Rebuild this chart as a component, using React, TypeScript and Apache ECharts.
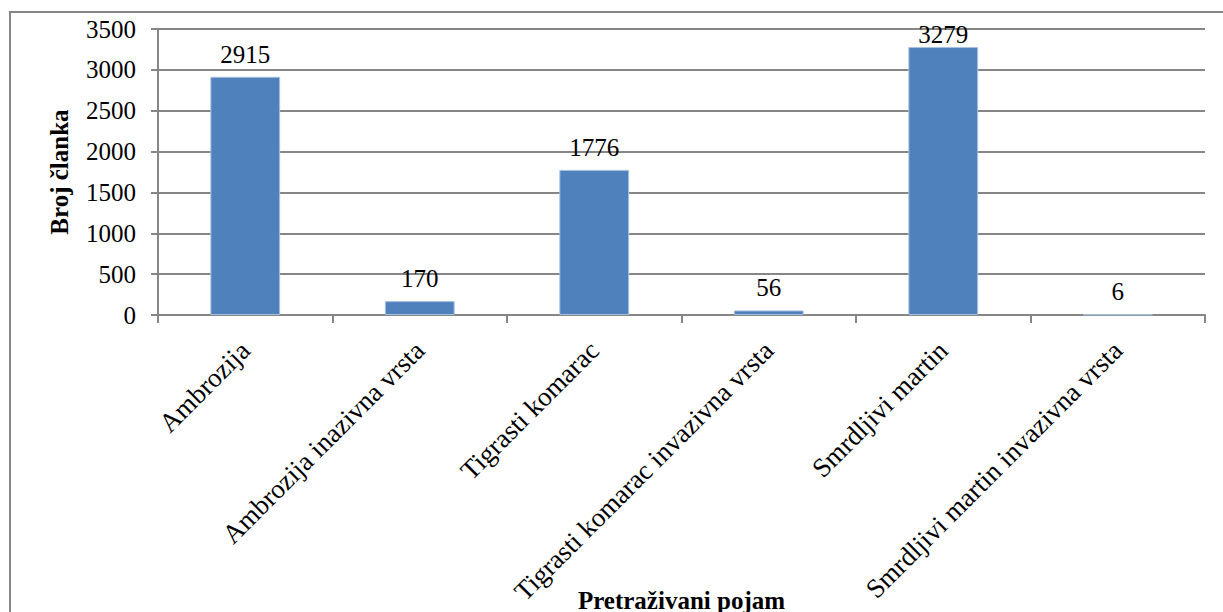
import React, { useEffect, useRef } from "react";
import * as echarts from "echarts";

const categories = [
  "Ambrozija",
  "Ambrozija inazivna vrsta",
  "Tigrasti komarac",
  "Tigrasti komarac invazivna vrsta",
  "Smrdljivi martin",
  "Smrdljivi martin invazivna vrsta",
];
const values = [2915, 170, 1776, 56, 3279, 6];
const yTicks = { min: 0, max: 3500, interval: 500 };
const xTitle = "Pretraživani pojam";
const yTitle = "Broj članka";

const FONT = "Liberation Serif";
const GRAY = "#868686";

export default function App() {
  const ref = useRef<HTMLDivElement>(null);
  useEffect(() => {
    document.body.style.margin = "0";
    const chart = echarts.init(ref.current!, undefined, { renderer: "svg" });
    chart.setOption({
      animation: false,
      backgroundColor: "#ffffff",
      textStyle: { fontFamily: FONT },
      grid: {
        left: 158,
        right: 18,
        top: 29,
        bottom: 297,
        containLabel: false,
        outerBoundsMode: "none",
      },
      graphic: [
        {
          type: "rect",
          shape: { x: 10, y: 12, width: 1300, height: 700 },
          style: { fill: "none", stroke: GRAY, lineWidth: 2 },
          silent: true,
          z: -1,
        },
      ],
      xAxis: {
        type: "category",
        data: categories,
        name: xTitle,
        nameLocation: "middle",
        nameGap: 285,
        nameMoveOverlap: false,
        nameTextStyle: {
          fontFamily: FONT,
          fontSize: 25,
          fontWeight: "bold",
          color: "#000",
          verticalAlign: "middle",
        },
        axisLine: { lineStyle: { color: GRAY, width: 2 } },
        axisTick: { show: true, length: 8, lineStyle: { color: GRAY, width: 2 } },
        axisLabel: {
          rotate: 45,
          interval: 0,
          margin: 31,
          fontFamily: FONT,
          fontSize: 27,
          color: "#000",
        },
      },
      yAxis: {
        type: "value",
        min: yTicks.min,
        max: yTicks.max,
        interval: yTicks.interval,
        name: yTitle,
        nameLocation: "middle",
        nameGap: 86,
        nameMoveOverlap: false,
        nameTextStyle: { fontFamily: FONT, fontSize: 25, fontWeight: "bold", color: "#000" },
        axisLine: { show: true, lineStyle: { color: GRAY, width: 2 } },
        axisTick: { show: true, length: 7, lineStyle: { color: GRAY, width: 2 } },
        axisLabel: {
          fontFamily: FONT,
          fontSize: 25,
          color: "#000",
          margin: 22,
          formatter: (v: number) => String(v),
        },
        splitLine: { show: true, lineStyle: { color: GRAY, width: 2 } },
      },
      series: [
        {
          type: "bar",
          data: values.map((v, i) =>
            i === 4 ? { value: v, label: { distance: 0 } } : v
          ),
          barCategoryGap: "60%",
          itemStyle: { color: "#4F81BD", borderColor: "#A7C0DE", borderWidth: 1 },
          label: {
            show: true,
            position: "top",
            distance: 10,
            fontFamily: FONT,
            fontSize: 25,
            color: "#000",
          },
        },
      ],
    });
    return () => chart.dispose();
  }, []);
  return <div ref={ref} style={{ width: 1223, height: 612 }} />;
}
